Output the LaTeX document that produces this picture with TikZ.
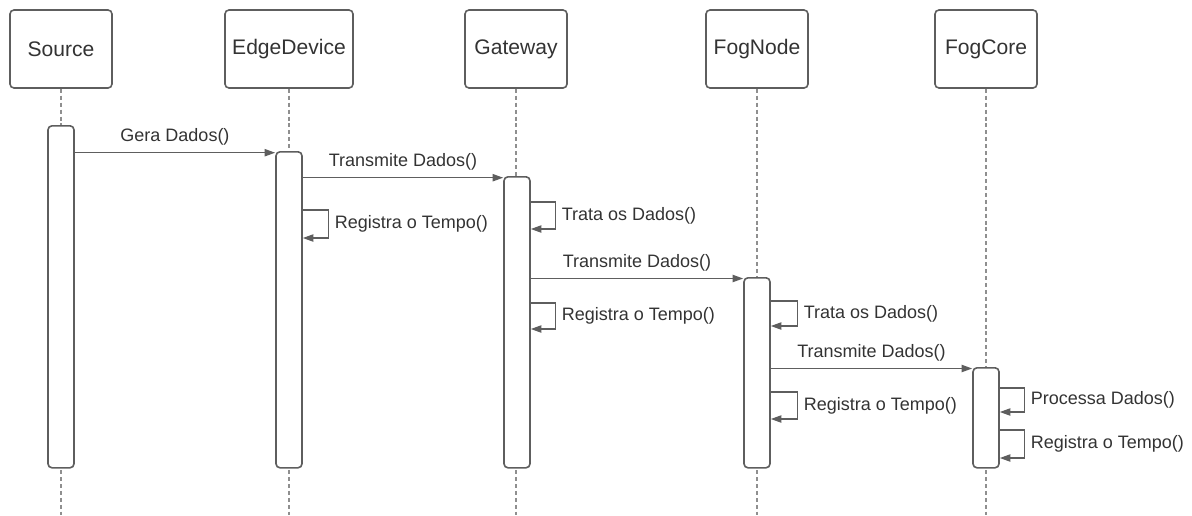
\documentclass[tikz,border=0pt]{standalone}
\usepackage{fontspec}
\setmainfont{Liberation Sans}
\usetikzlibrary{arrows.meta}
\definecolor{linegray}{HTML}{5E5E5E}
\definecolor{dashgray}{HTML}{8F8F8F}
\definecolor{txtgray}{HTML}{333333}
\tikzset{
  actor/.style={draw=linegray, line width=1.2pt, rounded corners=3pt, fill=white,
    minimum height=58.5pt, minimum width=76.5pt, inner sep=0pt,
    text=txtgray, font=\fontsize{15.8}{18}\selectfont},
  bar/.style={draw=linegray, line width=1.2pt, rounded corners=3pt, fill=white,
    minimum width=19.5pt, inner sep=0pt, anchor=north},
  lifeline/.style={draw=dashgray, line width=0.9pt, dash pattern=on 3pt off 2.2pt},
  msg/.style={draw=linegray, line width=1pt, -{Triangle[length=8pt,width=5.5pt]}},
  lbl/.style={text=txtgray, inner sep=0pt, font=\fontsize{13.5}{16}\selectfont}
}
\begin{document}
\begin{tikzpicture}[x=0.75pt, y=-0.75pt]
  \useasboundingbox (0,0) rectangle (1192,515);
  % participants
  \node[actor] (src) at (61,49) {Source};
  \node[actor, minimum width=96pt] (edge) at (289,49) {EdgeDevice};
  \node[actor] (gw) at (516,49) {Gateway};
  \node[actor] (fog) at (757,49) {FogNode};
  \node[actor] (core) at (986,49) {FogCore};
  % lifelines
  \begin{scope}
    \draw[lifeline] (src.south) -- (src.south |- 0,515);
    \draw[lifeline] (edge.south) -- (edge.south |- 0,515);
    \draw[lifeline] (gw.south) -- (gw.south |- 0,515);
    \draw[lifeline] (fog.south) -- (fog.south |- 0,515);
    \draw[lifeline] (core.south) -- (core.south |- 0,515);
  \end{scope}
  % activation bars
  \node[bar, minimum height=256.5pt] (srcbar) at (61,125) {};
  \node[bar, minimum height=237pt] (edgebar) at (289,151) {};
  \node[bar, minimum height=218.25pt] (gwbar) at (517,176) {};
  \node[bar, minimum height=142.5pt] (fogbar) at (757,277) {};
  \node[bar, minimum height=75pt] (corebar) at (986,367) {};
  % messages
  \draw[msg] (srcbar.east |- 0,152.7) -- node[lbl, above=5pt]{Gera Dados()} (edgebar.west |- 0,152.7);
  \draw[msg] (edgebar.east |- 0,177.7) -- node[lbl, above=5pt]{Transmite Dados()} (gwbar.west |- 0,177.7);
  \draw[msg] (gwbar.east |- 0,278.5) -- node[lbl, above=5pt]{Transmite Dados()} (fogbar.west |- 0,278.5);
  \draw[msg] (fogbar.east |- 0,368.5) -- node[lbl, above=5pt]{Transmite Dados()} (corebar.west |- 0,368.5);
  % self calls
  \draw[msg] (edgebar.east |- 0,210) -- ++(26,0) |- node[lbl, right=4pt, pos=0.25]{Registra o Tempo()} (edgebar.east |- 0,238);
  \draw[msg] (gwbar.east |- 0,202) -- ++(25,0) |- node[lbl, right=4pt, pos=0.25]{Trata os Dados()} (gwbar.east |- 0,229);
  \draw[msg] (gwbar.east |- 0,303) -- ++(25,0) |- node[lbl, right=4pt, pos=0.25]{Registra o Tempo()} (gwbar.east |- 0,329);
  \draw[msg] (fogbar.east |- 0,301) -- ++(27,0) |- node[lbl, right=4pt, pos=0.25]{Trata os Dados()} (fogbar.east |- 0,326);
  \draw[msg] (fogbar.east |- 0,392) -- ++(27,0) |- node[lbl, right=4pt, pos=0.25]{Registra o Tempo()} (fogbar.east |- 0,419);
  \draw[msg] (corebar.east |- 0,388) -- ++(25,0) |- node[lbl, right=4pt, pos=0.25]{Processa Dados()} (corebar.east |- 0,412);
  \draw[msg] (corebar.east |- 0,430) -- ++(25,0) |- node[lbl, right=4pt, pos=0.25]{Registra o Tempo()} (corebar.east |- 0,458);
\end{tikzpicture}
\end{document}
